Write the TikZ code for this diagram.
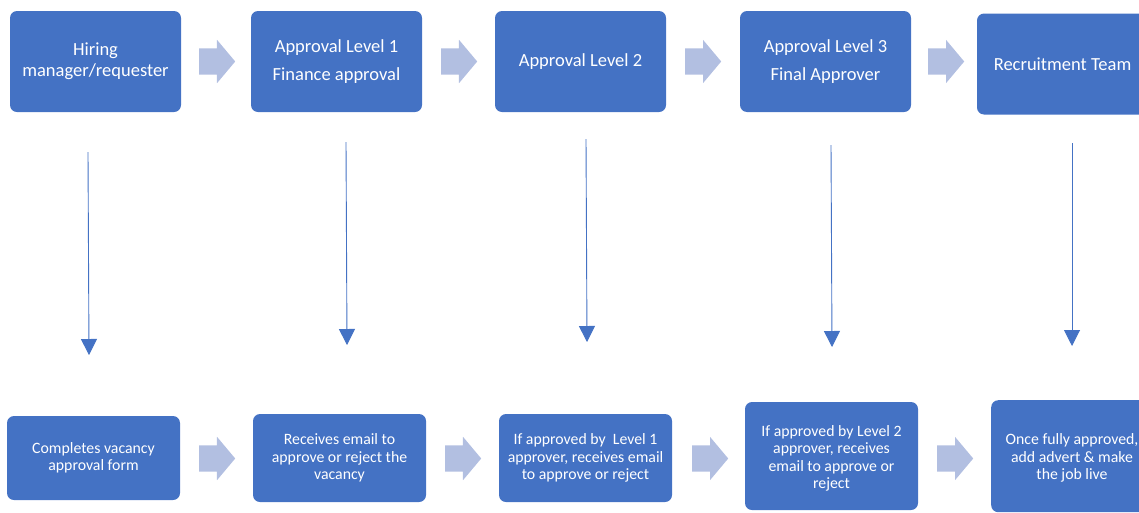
\documentclass[tikz,border=0pt]{standalone}
\usepackage{fontspec}
\setmainfont{Carlito}
\usetikzlibrary{shapes.arrows,arrows.meta}
\definecolor{boxblue}{RGB}{68,114,196}
\definecolor{pale}{RGB}{178,191,225}

\begin{document}
\begin{tikzpicture}[x=1pt,y=-1pt,
    stage/.style={fill=boxblue,rounded corners=7pt,text=white,align=center,inner sep=0pt},
    top/.style={stage,minimum width=171pt,minimum height=101pt,font=\fontsize{18.5}{28}\selectfont},
    task/.style={stage,minimum width=173pt,font=\fontsize{15.8}{17.4}\selectfont},
    fat/.style={single arrow,fill=pale,draw=none,inner xsep=0pt,inner ysep=13pt,minimum height=36pt,minimum width=43pt,single arrow head extend=8.5pt,single arrow tip angle=100,anchor=tail},
    down/.style={draw=boxblue,line width=0.9pt,-{Triangle[width=16pt,length=16pt]}}]
    \useasboundingbox (0,0) rectangle (1139,512);
    % top row
    \node [top,font=\fontsize{18.5}{21}\selectfont] (hire) at (95.5,61.5) {Hiring\\manager/requester};
    \node [top] (lvl1) at (336.5,61.5) {Approval Level 1\\Finance approval};
    \node [top] (lvl2) at (580.5,61.5) {Approval Level 2};
    \node [top] (lvl3) at (825.5,61.5) {Approval Level 3\\Final Approver};
    \node [top] (team) at (1062.5,64) {Recruitment Team};
    \node [fat] (ta) at (199,61.5) {};
    \node [fat] (tb) at (441,61.5) {};
    \node [fat] (tc) at (685,61.5) {};
    \node [fat] (td) at (928,61.5) {};
    % bottom row
    \node [task,minimum height=84pt] (form) at (93.5,458) {Completes vacancy\\approval form};
    \node [task,minimum height=88pt] (mail1) at (339.5,458) {Receives email to\\approve or reject the\\vacancy};
    \node [task,minimum height=88pt] (mail2) at (585.5,458) {If approved by~ Level 1\\approver, receives email\\to approve or reject};
    \node [task,minimum height=108pt] (mail3) at (831.5,456) {};
    \node [font=\fontsize{15.8}{17.4}\selectfont,text=white,align=center] at (831.5,458.5) {If approved by Level 2\\approver, receives\\email to approve or\\reject};
    \node [task,minimum height=112pt,anchor=north west] (live) at (991,400) {};
    \node [font=\fontsize{15.8}{17.4}\selectfont,text=white,align=center] at (1072,458) {Once fully approved,\\add advert \& make\\the job live};
    \node [fat] (ba) at (199,458.5) {};
    \node [fat] (bb) at (445,458.5) {};
    \node [fat] (bc) at (692,458.5) {};
    \node [fat] (bd) at (937,458.5) {};
    % downward arrows
    \coordinate (s1) at (88,152);  \coordinate (e1) at (89,355);
    \coordinate (s2) at (346,142); \coordinate (e2) at (347,345);
    \coordinate (s3) at (586,139); \coordinate (e3) at (587,342);
    \coordinate (s4) at (831,145); \coordinate (e4) at (832,347);
    \coordinate (s5) at (1072,143); \coordinate (e5) at (1072,346);
    \foreach \i in {1,...,5}
        \draw [down] (s\i) -- (e\i);
\end{tikzpicture}
\end{document}
